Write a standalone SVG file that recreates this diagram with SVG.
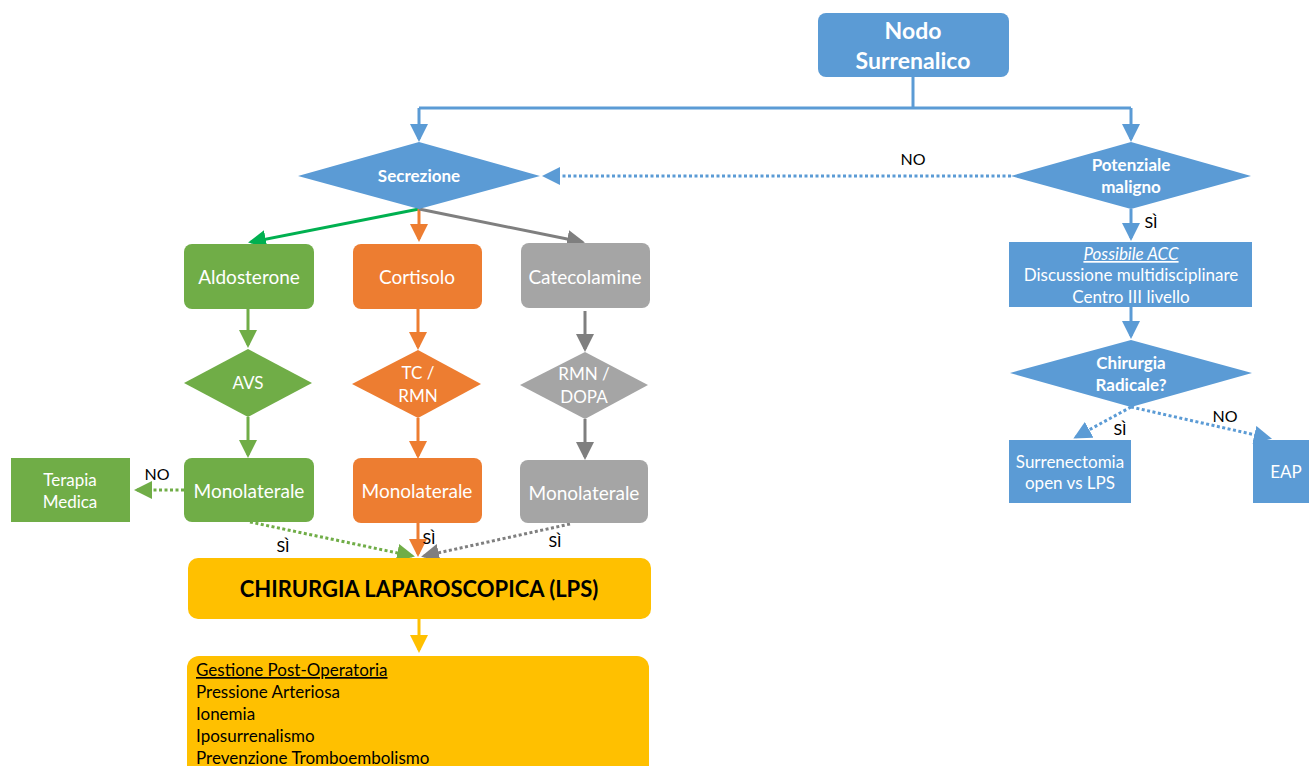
<svg xmlns="http://www.w3.org/2000/svg" width="1309" height="766" viewBox="0 0 1309 766">
<defs>
<style>
text{font-family:Lato,"Open Sans","Liberation Sans",sans-serif;text-anchor:middle;}
.w{fill:#fff;}
.b{fill:#000;}
.bold{font-weight:bold;}
.blue{fill:#5B9BD5;}
.green{fill:#70AD47;}
.orange{fill:#ED7D31;}
.gray{fill:#A5A5A5;}
.gold{fill:#FFC000;}
.ln{fill:none;stroke-width:3;}
.dot{stroke-dasharray:3 2.5;}
.lbl{font-size:16px;fill:#000;}
</style>
<marker id="aBlue" markerWidth="6" markerHeight="6" refX="5" refY="3" orient="auto" markerUnits="strokeWidth"><path d="M0,0 L6,3 L0,6 z" fill="#5B9BD5"/></marker>
<marker id="aGreen" markerWidth="6" markerHeight="6" refX="5" refY="3" orient="auto" markerUnits="strokeWidth"><path d="M0,0 L6,3 L0,6 z" fill="#70AD47"/></marker>
<marker id="aBGreen" markerWidth="6" markerHeight="6" refX="5" refY="3" orient="auto" markerUnits="strokeWidth"><path d="M0,0 L6,3 L0,6 z" fill="#00B050"/></marker>
<marker id="aOrange" markerWidth="6" markerHeight="6" refX="5" refY="3" orient="auto" markerUnits="strokeWidth"><path d="M0,0 L6,3 L0,6 z" fill="#ED7D31"/></marker>
<marker id="aGray" markerWidth="6" markerHeight="6" refX="5" refY="3" orient="auto" markerUnits="strokeWidth"><path d="M0,0 L6,3 L0,6 z" fill="#7F7F7F"/></marker>
<marker id="aGold" markerWidth="6" markerHeight="6" refX="5" refY="3" orient="auto" markerUnits="strokeWidth"><path d="M0,0 L6,3 L0,6 z" fill="#FFC000"/></marker>
</defs>
<rect width="1309" height="766" fill="#fff"/>

<g id="connectors">
<path class="ln" stroke="#5B9BD5" d="M913,77 V108"/>
<path class="ln" stroke="#5B9BD5" d="M419,108 H1131"/>
<path class="ln" stroke="#5B9BD5" d="M419,108 V139" marker-end="url(#aBlue)"/>
<path class="ln" stroke="#5B9BD5" d="M1131,108 V139" marker-end="url(#aBlue)"/>
<path class="ln dot" stroke="#5B9BD5" d="M1011,176 H545" marker-end="url(#aBlue)"/>
<path class="ln" stroke="#5B9BD5" d="M1131,209 V238" marker-end="url(#aBlue)"/>
<path class="ln" stroke="#5B9BD5" d="M1131,307 V336" marker-end="url(#aBlue)"/>
<path class="ln dot" stroke="#5B9BD5" d="M1131,407 L1076,437" marker-end="url(#aBlue)"/>
<path class="ln dot" stroke="#5B9BD5" d="M1131,407 L1269,438" marker-end="url(#aBlue)"/>

<path class="ln" stroke="#00B050" d="M419,209 L251,242" marker-end="url(#aBGreen)"/>
<path class="ln" stroke="#ED7D31" d="M419,209 V239" marker-end="url(#aOrange)"/>
<path class="ln" stroke="#7F7F7F" d="M419,209 L582,242" marker-end="url(#aGray)"/>

<path class="ln" stroke="#70AD47" d="M248,309 V345" marker-end="url(#aGreen)"/>
<path class="ln" stroke="#ED7D31" d="M418,309 V347" marker-end="url(#aOrange)"/>
<path class="ln" stroke="#7F7F7F" d="M585,311 V349" marker-end="url(#aGray)"/>

<path class="ln" stroke="#70AD47" d="M248,417 V455" marker-end="url(#aGreen)"/>
<path class="ln" stroke="#ED7D31" d="M418,418 V456" marker-end="url(#aOrange)"/>
<path class="ln" stroke="#7F7F7F" d="M585,419 V457" marker-end="url(#aGray)"/>

<path class="ln dot" stroke="#70AD47" d="M184,490 H137" marker-end="url(#aGreen)"/>
<path class="ln dot" stroke="#70AD47" d="M250,522 L412,556" marker-end="url(#aGreen)"/>
<path class="ln" stroke="#ED7D31" d="M418,523 V554" marker-end="url(#aOrange)"/>
<path class="ln dot" stroke="#7F7F7F" d="M570,524 L424,556" marker-end="url(#aGray)"/>
<path class="ln" stroke="#FFC000" d="M419,619 V650" marker-end="url(#aGold)"/>

<text class="lbl" x="913" y="165">NO</text>
<text class="lbl" x="1151" y="228">SÌ</text>
<text class="lbl" x="1120" y="435">SÌ</text>
<text class="lbl" x="1225" y="422">NO</text>
<text class="lbl" x="157" y="480">NO</text>
<text class="lbl" x="283" y="552">SÌ</text>
<text class="lbl" x="429" y="544">SÌ</text>
<text class="lbl" x="555" y="547">SÌ</text>
</g>

<g id="nodo">
<rect class="blue" x="818" y="13" width="191" height="64" rx="8"/>
<text class="w bold" x="913" y="39" font-size="23">Nodo</text>
<text class="w bold" x="913" y="69" font-size="23">Surrenalico</text>
</g>

<g id="secrezione">
<polygon class="blue" points="298,176 419,142 540,176 419,209"/>
<text class="w bold" x="419" y="182" font-size="17">Secrezione</text>
</g>

<g id="potenziale">
<polygon class="blue" points="1011,176 1131,142 1251,176 1131,209"/>
<text class="w bold" x="1131" y="171" font-size="17">Potenziale</text>
<text class="w bold" x="1131" y="193" font-size="17">maligno</text>
</g>

<g id="acc">
<rect class="blue" x="1009" y="242" width="243" height="65"/>
<text class="w" x="1131" y="260" font-size="17" font-style="italic" text-decoration="underline">Possibile ACC</text>
<text class="w" x="1131" y="281" font-size="17">Discussione multidisciplinare</text>
<text class="w" x="1131" y="303" font-size="17">Centro III livello</text>
</g>

<g id="radicale">
<polygon class="blue" points="1010,373 1131,340 1252,373 1131,407"/>
<text class="w bold" x="1131" y="369" font-size="17">Chirurgia</text>
<text class="w bold" x="1131" y="391" font-size="17">Radicale?</text>
</g>

<g id="surrenectomia">
<rect class="blue" x="1009" y="440" width="122" height="63"/>
<text class="w" x="1070" y="468" font-size="17">Surrenectomia</text>
<text class="w" x="1070" y="489" font-size="17">open vs LPS</text>
</g>

<g id="eap">
<rect class="blue" x="1253" y="440" width="60" height="63"/>
<text class="w" x="1286" y="478" font-size="17">EAP</text>
</g>

<g id="aldosterone">
<rect class="green" x="184" y="244" width="130" height="65" rx="8"/>
<text class="w" x="249" y="284" font-size="19">Aldosterone</text>
</g>
<g id="cortisolo">
<rect class="orange" x="353" y="244" width="129" height="65" rx="8"/>
<text class="w" x="417" y="284" font-size="19">Cortisolo</text>
</g>
<g id="catecolamine">
<rect class="gray" x="521" y="243" width="129" height="65" rx="8"/>
<text class="w" x="585" y="284" font-size="19">Catecolamine</text>
</g>

<g id="avs">
<polygon class="green" points="184,383 248,349 312,383 248,417"/>
<text class="w" x="248" y="389" font-size="17">AVS</text>
</g>
<g id="tcrmn">
<polygon class="orange" points="352,384 418,350 481,384 418,418"/>
<text class="w" x="418" y="379" font-size="17">TC /</text>
<text class="w" x="418" y="402" font-size="17">RMN</text>
</g>
<g id="rmndopa">
<polygon class="gray" points="520,385 585,352 648,385 585,419"/>
<text class="w" x="584" y="380" font-size="17">RMN /</text>
<text class="w" x="584" y="403" font-size="17">DOPA</text>
</g>

<g id="terapia">
<rect class="green" x="11" y="458" width="119" height="64"/>
<text class="w" x="70" y="486" font-size="17">Terapia</text>
<text class="w" x="70" y="508" font-size="17">Medica</text>
</g>
<g id="mono-green">
<rect class="green" x="184" y="458" width="130" height="64" rx="8"/>
<text class="w" x="249" y="498" font-size="19">Monolaterale</text>
</g>
<g id="mono-orange">
<rect class="orange" x="353" y="458" width="129" height="65" rx="8"/>
<text class="w" x="417" y="498" font-size="19">Monolaterale</text>
</g>
<g id="mono-gray">
<rect class="gray" x="520" y="460" width="128" height="63" rx="8"/>
<text class="w" x="584" y="500" font-size="19">Monolaterale</text>
</g>

<g id="chirurgia">
<rect class="gold" x="188" y="558" width="463" height="61" rx="10"/>
<text class="b bold" x="419" y="597" font-size="22">CHIRURGIA LAPAROSCOPICA (LPS)</text>
</g>

<g id="gestione">
<rect class="gold" x="187" y="656" width="462" height="125" rx="12"/>
<text class="b" x="196" y="676" font-size="17" style="text-anchor:start" text-decoration="underline">Gestione Post-Operatoria</text>
<text class="b" x="196" y="698" font-size="17" style="text-anchor:start">Pressione Arteriosa</text>
<text class="b" x="196" y="720" font-size="17" style="text-anchor:start">Ionemia</text>
<text class="b" x="196" y="742" font-size="17" style="text-anchor:start">Iposurrenalismo</text>
<text class="b" x="196" y="764" font-size="17" style="text-anchor:start">Prevenzione Tromboembolismo</text>
</g>
</svg>
